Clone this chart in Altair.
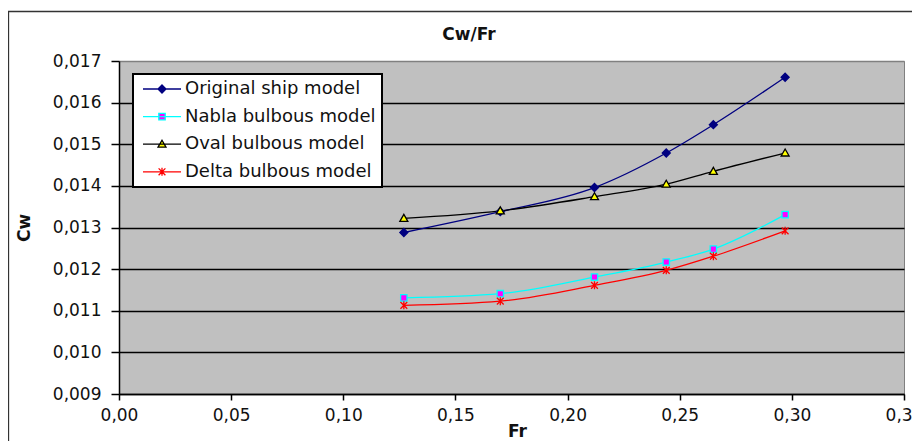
import altair as alt
import pandas as pd

# ---- data ----
fr = [0.127, 0.170, 0.212, 0.244, 0.265, 0.297]
series = ["Original ship model", "Nabla bulbous model", "Oval bulbous model", "Delta bulbous model"]
cw_original = [0.01288, 0.01338, 0.01396, 0.01479, 0.01547, 0.01661]
cw_nabla = [0.01131, 0.01141, 0.01181, 0.01217, 0.01248, 0.01331]
cw_oval = [0.01322, 0.01340, 0.01374, 0.01404, 0.01435, 0.01479]
cw_delta = [0.01113, 0.01123, 0.01161, 0.01197, 0.01231, 0.01292]
x_ticks = [0.00, 0.05, 0.10, 0.15, 0.20, 0.25, 0.30, 0.35]
y_ticks = [0.009, 0.010, 0.011, 0.012, 0.013, 0.014, 0.015, 0.016, 0.017]
chart_title = "Cw/Fr"

# ---- styles ----
line_colors = ["#000080", "#00FFFF", "#000000", "#FF0000"]
marker_fills = ["#000080", "#FF00FF", "#FFFF00", "#FF0000"]
marker_shapes = [
    "M0,-1L1,0L0,1L-1,0Z",
    "M-0.8,-0.8H0.8V0.8H-0.8Z",
    "M0,-1L1,0.75L-1,0.75Z",
    "M-0.85,-0.85L0.85,0.85M-0.85,0.85L0.85,-0.85M0,-1L0,1",
]
legend_shapes = [
    "M-4.75,0H4.75M0,-1L1,0L0,1L-1,0Z",
    "M-4.75,0H4.75M-0.8,-0.8H0.8V0.8H-0.8Z",
    "M-4.75,0H4.75M0,-1L1,0.75L-1,0.75Z",
    "M-4.75,0H4.75M-0.85,-0.85L0.85,0.85M-0.85,0.85L0.85,-0.85M0,-1L0,1",
]
FONT = "DejaVu Sans"
TXT = "#111111"

rows = []
for name, vals in zip(series, [cw_original, cw_nabla, cw_oval, cw_delta]):
    for f, c in zip(fr, vals):
        rows.append({"Fr": f, "Cw": c, "series": name})
df = pd.DataFrame(rows)

x = alt.X(
    "Fr:Q",
    scale=alt.Scale(domain=[0, 0.35], nice=False, zero=False),
    axis=alt.Axis(
        values=x_ticks,
        labelExpr="replace(format(datum.value, '.2f'), '.', ',')",
        title="Fr",
        titleX=398,
        titleY=37.5,
        titleBaseline="middle",
        titleAlign="center",
        titleFont=FONT,
        titleFontSize=17,
        titleFontWeight="bold",
        titleColor=TXT,
        labelFont=FONT,
        labelFontSize=17,
        labelColor=TXT,
        labelPadding=7,
        tickSize=6,
        tickColor="black",
        tickWidth=1.5,
        domainColor="black",
        domainWidth=1.5,
        grid=False,
        labelFlush=False,
        labelOverlap=False,
    ),
)
y = alt.Y(
    "Cw:Q",
    scale=alt.Scale(domain=[0.009, 0.017], nice=False, zero=False),
    axis=alt.Axis(
        values=y_ticks,
        labelExpr="replace(format(datum.value, '.3f'), '.', ',')",
        title="Cw",
        titleX=-95,
        titleY=166.5,
        titleAngle=-90,
        titleBaseline="middle",
        titleAlign="center",
        titleFont=FONT,
        titleFontSize=17,
        titleFontWeight="bold",
        titleColor=TXT,
        labelFont=FONT,
        labelFontSize=17,
        labelColor=TXT,
        labelPadding=10,
        tickSize=8,
        tickColor="black",
        tickWidth=1.5,
        domainColor="black",
        domainWidth=1.5,
        grid=True,
        gridColor={"condition": {"test": "datum.value > 0.0165", "value": "#808080"}, "value": "#000000"},
        gridWidth=1.3,
        labelFlush=False,
        labelOverlap=False,
    ),
)

base = alt.Chart(df).encode(x=x, y=y)

lines = base.mark_line(interpolate="monotone", strokeWidth=1.3).encode(
    stroke=alt.Stroke("series:N", scale=alt.Scale(domain=series, range=line_colors), legend=None),
)

markers = base.mark_point(filled=True, opacity=1, size=64, strokeWidth=1.3).encode(
    shape=alt.Shape("series:N", scale=alt.Scale(domain=series, range=marker_shapes), legend=None),
    fill=alt.Fill("series:N", scale=alt.Scale(domain=series, range=marker_fills), legend=None),
    stroke=alt.Stroke("series:N", scale=alt.Scale(domain=series, range=line_colors), legend=None),
)

leg = alt.Legend(
    title=None,
    orient="none",
    legendX=14,
    legendY=13,
    fillColor="white",
    strokeColor="black",
    padding=6,
    symbolSize=64,
    symbolOffset=14,
    labelOffset=14,
    rowPadding=9.6,
    labelFont=FONT,
    labelFontSize=18,
    labelColor=TXT,
    labelLimit=400,
    symbolOpacity=1,
    symbolStrokeWidth=1.3,
)

legend_layer = base.mark_point(filled=True, opacity=0, size=64).encode(
    shape=alt.Shape("series:N", scale=alt.Scale(domain=series, range=legend_shapes), legend=leg),
    fill=alt.Fill("series:N", scale=alt.Scale(domain=series, range=marker_fills), legend=leg),
    stroke=alt.Stroke("series:N", scale=alt.Scale(domain=series, range=line_colors), legend=leg),
)

border = alt.Chart(pd.DataFrame({"a": [0]})).mark_rect(
    fillOpacity=0, stroke="#333333", strokeWidth=1.3
).encode(x=alt.value(-110.5), x2=alt.value(830), y=alt.value(-49.5), y2=alt.value(420))

title_layer = alt.Chart(pd.DataFrame({"t": [chart_title]})).mark_text(
    font=FONT, fontSize=17, fontWeight="bold", color=TXT, align="center", baseline="middle"
).encode(text="t:N", x=alt.value(350), y=alt.value(-26))

chart = (
    alt.layer(border, title_layer, lines, markers, legend_layer)
    .resolve_scale(shape="independent", fill="independent", stroke="independent")
    .properties(
        width=785,
        height=333,
        padding={"left": 111, "top": 53, "right": 8, "bottom": 47},
        autosize=alt.AutoSizeParams(type="none"),
        background="white",
    )
    .configure_view(fill="#C0C0C0", stroke="#808080", strokeWidth=1)
    .configure_legend(strokeWidth=2)
)

chart.save("out.html", embed_options={"renderer": "svg", "actions": False})
